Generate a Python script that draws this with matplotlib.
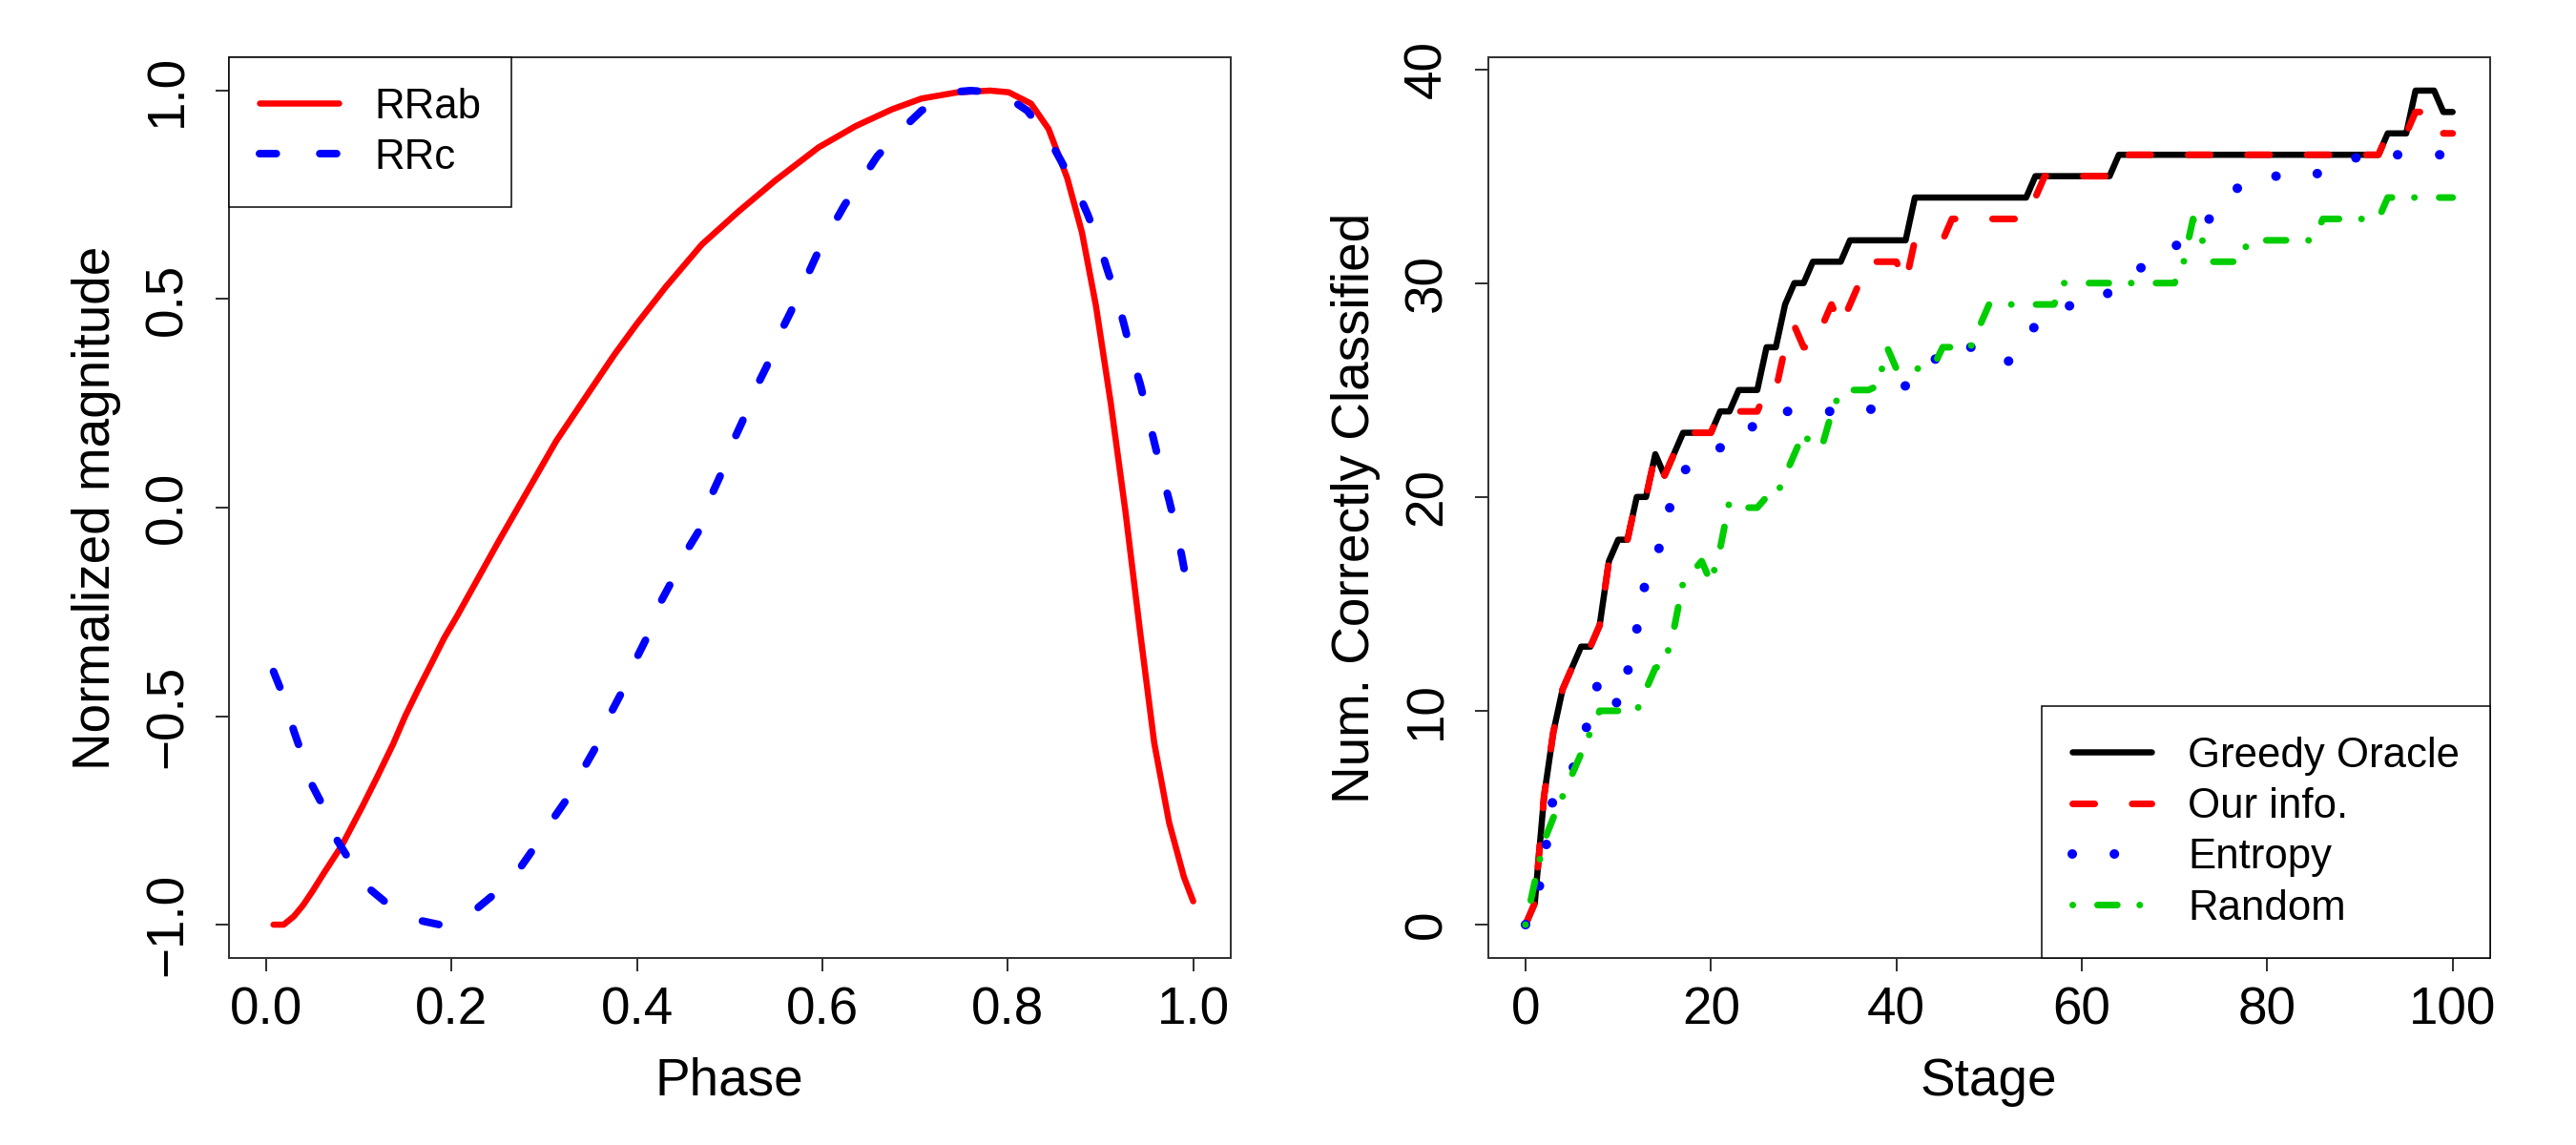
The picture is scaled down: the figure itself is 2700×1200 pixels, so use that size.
import matplotlib
matplotlib.use("Agg")
import matplotlib.pyplot as plt

plt.rcParams['font.family'] = ['Liberation Sans', 'DejaVu Sans']

# ---- left panel: template light curves ----
phase_ab = [0.008, 0.019, 0.030, 0.040, 0.050, 0.063, 0.082, 0.104, 0.120, 0.137,
            0.150, 0.164, 0.178, 0.192, 0.206, 0.219, 0.250, 0.282, 0.313, 0.345,
            0.376, 0.400, 0.431, 0.470, 0.510, 0.549, 0.596, 0.636, 0.675, 0.707,
            0.746, 0.781, 0.801, 0.825, 0.844, 0.864, 0.880, 0.895, 0.911, 0.927,
            0.943, 0.958, 0.974, 0.990, 1.000]
mag_ab = [-1.0, -1.0, -0.98, -0.953, -0.92, -0.874, -0.809, -0.716, -0.645, -0.567,
          -0.50, -0.436, -0.375, -0.313, -0.26, -0.208, -0.084, 0.040, 0.160, 0.266,
          0.368, 0.441, 0.529, 0.631, 0.711, 0.784, 0.864, 0.915, 0.955, 0.981,
          0.996, 1.0, 0.996, 0.969, 0.908, 0.791, 0.660, 0.485, 0.252, -0.011,
          -0.303, -0.565, -0.755, -0.886, -0.944]

phase_c = [0.008, 0.018, 0.030, 0.038, 0.050, 0.062, 0.077, 0.089, 0.112, 0.132,
           0.150, 0.168, 0.187, 0.205, 0.227, 0.246, 0.274, 0.290, 0.309, 0.325,
           0.345, 0.356, 0.372, 0.384, 0.398, 0.411, 0.423, 0.437, 0.453, 0.467,
           0.478, 0.490, 0.502, 0.514, 0.527, 0.540, 0.553, 0.566, 0.581, 0.596,
           0.611, 0.624, 0.644, 0.659, 0.683, 0.707, 0.738, 0.760, 0.780, 0.797,
           0.821, 0.844, 0.860, 0.876, 0.886, 0.899, 0.907, 0.919, 0.926, 0.935,
           0.943, 0.951, 0.958, 0.966, 0.974, 0.982, 0.988, 0.994, 1.000]
mag_c = [-0.393, -0.448, -0.536, -0.587, -0.667, -0.718, -0.799, -0.842, -0.915, -0.952,
         -0.975, -0.991, -1.0, -0.99, -0.962, -0.927, -0.864, -0.813, -0.748, -0.697,
         -0.616, -0.573, -0.492, -0.441, -0.368, -0.310, -0.237, -0.179, -0.106, -0.055,
         0.018, 0.077, 0.150, 0.208, 0.281, 0.339, 0.412, 0.470, 0.543, 0.616,
         0.675, 0.726, 0.791, 0.842, 0.901, 0.952, 0.996, 1.0, 0.997, 0.988,
         0.952, 0.886, 0.821, 0.755, 0.704, 0.631, 0.573, 0.492, 0.434, 0.354,
         0.295, 0.222, 0.157, 0.084, 0.018, -0.055, -0.120, -0.193, -0.230]

# ---- right panel: correctly classified per stage ----
stage = list(range(101))
greedy = [0, 1, 6, 9, 11, 12, 13, 13, 14, 17,
          18, 18, 20, 20, 22, 21, 22, 23, 23, 23,
          23, 24, 24, 25, 25, 25, 27, 27, 29, 30,
          30, 31, 31, 31, 31, 32, 32, 32, 32, 32,
          32, 32, 34, 34, 34, 34, 34, 34, 34, 34,
          34, 34, 34, 34, 34, 35, 35, 35, 35, 35,
          35, 35, 35, 35, 36, 36, 36, 36, 36, 36,
          36, 36, 36, 36, 36, 36, 36, 36, 36, 36,
          36, 36, 36, 36, 36, 36, 36, 36, 36, 36,
          36, 36, 36, 37, 37, 37, 39, 39, 39, 38,
          38]
our_info = [0, 1, 6, 9, 11, 12, 13, 13, 14, 17,
            18, 18, 20, 20, 22, 21, 22, 23, 23, 23,
            23, 24, 24, 24, 24, 24, 25, 25, 27, 28,
            27, 27, 28, 29, 28, 29, 30, 31, 31, 31,
            31, 30, 32, 32, 32, 32, 33, 33, 33, 33,
            33, 33, 33, 33, 33, 34, 35, 35, 35, 35,
            35, 35, 35, 35, 36, 36, 36, 36, 36, 36,
            36, 36, 36, 36, 36, 36, 36, 36, 36, 36,
            36, 36, 36, 36, 36, 36, 36, 36, 36, 36,
            36, 36, 36, 37, 37, 37, 38, 38, 38, 37,
            37]
entropy = [0, 0.6, 3, 6, 6.5, 7.2, 8.2, 10, 11.6, 11.2,
           10.2, 11.8, 13.8, 16.2, 17, 18.5, 20.3, 21.2, 21.5, 22,
           22.2, 22.3, 22.3, 22.4, 23, 23.6, 24, 24, 24, 24,
           24, 24, 24, 24, 24, 24, 24, 24, 24.4, 24.8,
           25, 25.2, 25.4, 25.6, 26.3, 27, 27, 27, 27, 27,
           26.8, 26.5, 26.3, 26.8, 27.5, 28, 28.3, 28.6, 28.8, 29,
           29, 29, 29.2, 29.6, 30, 30.3, 30.6, 30.9, 31.1, 31.4,
           31.7, 32, 32.3, 32.7, 33.1, 33.7, 34.2, 34.5, 34.8, 35,
           35, 35, 35, 35, 35, 35, 35.3, 35.5, 35.7, 35.8,
           35.9, 36, 36, 36, 36, 36, 36, 36, 36, 36,
           36]
random_sel = [0, 2, 3.9, 5, 6, 7, 8, 9, 10, 10,
              10, 10, 10, 11, 12, 12.2, 13.8, 16, 16.5, 17,
              16, 17.6, 19.8, 19.5, 19.5, 19.5, 20, 20, 21, 22,
              23, 22.3, 22.4, 23.9, 25, 25, 25, 25, 25.2, 27,
              26, 26, 26, 26, 26.1, 27, 27, 27, 27, 28,
              29, 29, 29, 29, 29, 29, 29, 29, 30, 30,
              30, 30, 30, 30, 30, 30, 30, 30, 30, 30,
              30, 31, 33, 32, 31, 31, 31, 31, 32, 32,
              32, 32, 32, 32, 32, 32, 33, 33, 33, 33,
              33, 33, 33, 34, 34, 34, 34, 34, 34, 34,
              34]

PX = 0.72  # points per pixel at dpi 100
TICK_FS = 39.5
LEG_FS = 31.5
FRAME = '#333333'

fig = plt.figure(figsize=(27, 12), dpi=100)
ax1 = fig.add_axes([0.0889, 0.1633, 0.3887, 0.7867])
ax2 = fig.add_axes([0.5778, 0.1633, 0.3887, 0.7867])

# left panel
ax1.plot(phase_ab, mag_ab, color='red', lw=6.5 * PX, solid_capstyle='round',
         solid_joinstyle='round', label='RRab')
ax1.plot(phase_c, mag_c, color='blue', lw=8 * PX, dashes=(2.2, 5.7),
         dash_capstyle='round', label='RRc')
ax1.set_xlim(-0.04, 1.04)
ax1.set_ylim(-1.08, 1.08)
ax1.set_xticks([0.0, 0.2, 0.4, 0.6, 0.8, 1.0])
ax1.set_xticklabels(['0.0', '0.2', '0.4', '0.6', '0.8', '1.0'])
ax1.set_yticks([-1.0, -0.5, 0.0, 0.5, 1.0])
ax1.set_yticklabels(['\u22121.0', '\u22120.5', '0.0', '0.5', '1.0'])
ax1.set_xlabel('Phase', fontsize=TICK_FS, labelpad=16)
ax1.set_ylabel('Normalized magnitude', fontsize=TICK_FS, labelpad=17)
leg1 = ax1.legend(loc='upper left', borderaxespad=0, fontsize=LEG_FS,
                  fancybox=False, edgecolor='black', framealpha=1,
                  handlelength=1.9, handletextpad=0.87, borderpad=0.72,
                  labelspacing=0.28)
leg1.get_frame().set_linewidth(1.5 * PX)

# right panel
ax2.plot(stage, greedy, color='black', lw=6.5 * PX, solid_joinstyle='round',
         solid_capstyle='round', label='Greedy Oracle')
ax2.plot(stage, our_info, color='red', lw=7 * PX, dashes=(3.3, 5.6),
         dash_capstyle='round', label='Our info.')
ax2.plot(stage, entropy, color='blue', lw=10 * PX, dashes=(0.01, 4.4),
         dash_capstyle='round', label='Entropy')
ax2.plot(stage, random_sel, color='#00cd00', lw=7 * PX,
         dashes=(0.01, 3.7, 2.96, 3.36), dash_capstyle='round', label='Random')
ax2.set_xlim(-4, 104)
ax2.set_ylim(-1.56, 40.56)
ax2.set_xticks([0, 20, 40, 60, 80, 100])
ax2.set_yticks([0, 10, 20, 30, 40])
ax2.set_xlabel('Stage', fontsize=TICK_FS, labelpad=16)
ax2.set_ylabel('Num. Correctly Classified', fontsize=TICK_FS, labelpad=17)
leg2 = ax2.legend(loc='lower right', borderaxespad=0, fontsize=LEG_FS,
                  fancybox=False, edgecolor='black', framealpha=1,
                  handlelength=1.9, handletextpad=0.87, borderpad=0.72,
                  labelspacing=0.28)
leg2.get_frame().set_linewidth(1.5 * PX)

for ax in (ax1, ax2):
    for sp in ax.spines.values():
        sp.set_linewidth(2 * PX)
        sp.set_color(FRAME)
    ax.tick_params(axis='both', direction='out', length=14 * PX, width=2 * PX,
                   labelsize=TICK_FS, color=FRAME)
    ax.tick_params(axis='x', pad=11)
    ax.tick_params(axis='y', pad=17)
    for lab in ax.get_yticklabels():
        lab.set_rotation(90)
        lab.set_va('center')

fig.savefig('out.png', dpi=100, facecolor='white')
